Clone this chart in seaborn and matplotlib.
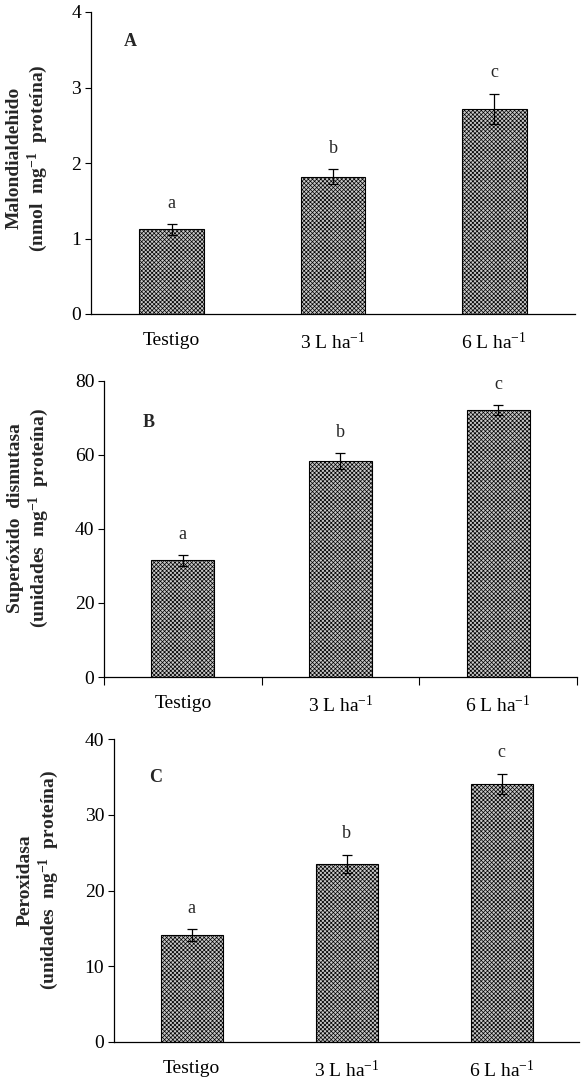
import matplotlib
matplotlib.use("Agg")
import matplotlib.pyplot as plt
import seaborn as sns
import pandas as pd
import numpy as np

# ---- data ----
categories = ["Testigo", "3 L ha$^{-1}$", "6 L ha$^{-1}$"]
mda_values = [1.12, 1.82, 2.72]
mda_errors = [0.07, 0.10, 0.20]
sod_values = [31.5, 58.4, 72.1]
sod_errors = [1.4, 2.1, 1.4]
pod_values = [14.1, 23.5, 34.1]
pod_errors = [0.8, 1.2, 1.3]
letters = ["a", "b", "c"]
panel_labels = ["A", "B", "C"]
ylabels = [
    "Malondialdehido\n" + r"(nmol  mg$^{\mathbf{-1}}$  proteína)",
    "Superóxido  dismutasa\n" + r"(unidades  mg$^{\mathbf{-1}}$  proteína)",
    "Peroxidasa\n" + r"(unidades  mg$^{\mathbf{-1}}$  proteína)",
]
ylims = [4, 80, 40]
ysteps = [1, 20, 10]

sns.set_style("white")
plt.rcParams["font.family"] = ["Liberation Serif", "DejaVu Serif"]
plt.rcParams["mathtext.fontset"] = "custom"
plt.rcParams["mathtext.rm"] = "Liberation Serif"
plt.rcParams["mathtext.bf"] = "Liberation Serif:bold"
plt.rcParams["mathtext.it"] = "Liberation Serif:italic"
plt.rcParams["hatch.color"] = "#404040"
plt.rcParams["hatch.linewidth"] = 0.5

W, H = 584, 1088
fig = plt.figure(figsize=(W / 100, H / 100), dpi=100)

# axes boxes in pixels: left, right, top, bottom
boxes = [(91, 575, 12, 314), (104, 577, 381, 677), (114, 579, 739, 1042)]
series = [(mda_values, mda_errors), (sod_values, sod_errors), (pod_values, pod_errors)]
panel_pos = [(130, 41), (149, 422), (156, 778)]
ylabel_pos = [(28, 158), (29, 518), (39, 880)]

for i, ((l, r, t, b), (vals, errs)) in enumerate(zip(boxes, series)):
    ax = fig.add_axes([l / W, 1 - b / H, (r - l) / W, (b - t) / H])
    df = pd.DataFrame({"cat": categories, "val": vals})
    sns.barplot(data=df, x="cat", y="val", ax=ax, color="#b0b0b0",
                width=0.40, edgecolor="black", linewidth=0.8, saturation=1)
    for p in ax.patches:
        p.set_hatch("xxxxxxxx")
        p.set_facecolor("#c8c8c8")
    ax.errorbar(np.arange(len(vals)), vals, yerr=errs, fmt="none",
                ecolor="black", elinewidth=0.9, capsize=3.5, capthick=0.9)
    for k, (v, e) in enumerate(zip(vals, errs)):
        ax.annotate(letters[k], xy=(k, v + e), xytext=(0, 9),
                    textcoords="offset points", ha="center", va="bottom",
                    fontsize=13)
    ax.set_xlim(-0.5, 2.5)
    ax.set_ylim(0, ylims[i])
    ticks = np.arange(0, ylims[i] + 0.001, ysteps[i])
    ax.set_yticks(ticks)
    ax.set_yticklabels([f"{int(v)}" for v in ticks])
    ax.set_xlabel("")
    ax.set_ylabel("")
    for s in ["top", "right"]:
        ax.spines[s].set_visible(False)
    for s in ["left", "bottom"]:
        ax.spines[s].set_color("black")
        ax.spines[s].set_linewidth(0.9)
    ax.tick_params(axis="y", direction="out", length=4, width=0.8,
                   labelsize=14, colors="black", pad=3, left=True)
    ax.tick_params(axis="x", length=0, labelsize=14, pad=13, colors="black")
    if i == 1:
        ax.set_xticks([-0.5, 0.5, 1.5, 2.5], minor=True)
        ax.tick_params(axis="x", which="minor", direction="out", length=6,
                       width=0.8, bottom=True, colors="black")
    ax.text(panel_pos[i][0] / W, 1 - panel_pos[i][1] / H, panel_labels[i],
            transform=fig.transFigure, fontsize=13, fontweight="bold",
            ha="center", va="center")
    fig.text(ylabel_pos[i][0] / W, 1 - ylabel_pos[i][1] / H, ylabels[i],
             rotation=90, fontsize=14, fontweight="bold", ha="center",
             va="center", multialignment="center", linespacing=1.15)

fig.savefig("out.png", dpi=100)
